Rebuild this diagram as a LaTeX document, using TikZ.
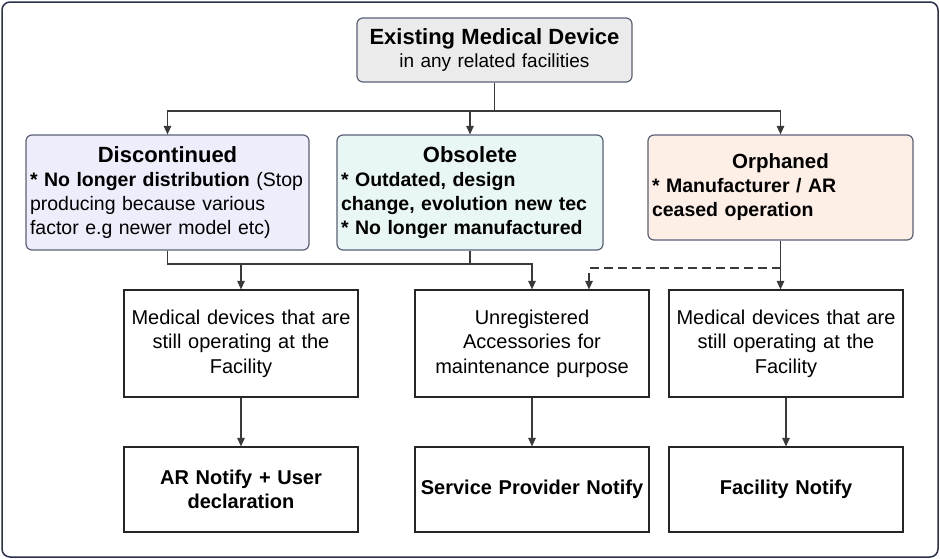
\documentclass[tikz,border=0pt]{standalone}
\usepackage{fontspec}
\setmainfont{Liberation Sans}
\usetikzlibrary{arrows.meta}

\definecolor{framecol}{HTML}{29304C}
\definecolor{edgecol}{HTML}{5A6078}
\definecolor{linecol}{HTML}{3A3A3A}
\definecolor{topfill}{HTML}{EBEBEB}
\definecolor{discfill}{HTML}{EDEDFB}
\definecolor{obsfill}{HTML}{E8F6F4}
\definecolor{orphfill}{HTML}{FDEEE6}

\newcommand{\boxtitle}{\fontsize{22}{25}\selectfont\bfseries}
\newcommand{\boxbody}{\fontsize{19.5}{24}\selectfont}
\newcommand{\cellfont}{\fontsize{20}{24.5}\selectfont}

\begin{document}
\begin{tikzpicture}[x=1pt, y=-1pt,
		catbox/.style={draw=edgecol, line width=1.2pt, rounded corners=6pt, inner xsep=4pt, inner ysep=0pt, font=\boxbody},
		stepbox/.style={draw=black!85, line width=1.2pt, text width=226pt, inner xsep=4pt, align=center, font=\cellfont},
		conn/.style={draw=linecol, line width=1.1pt},
		arr/.style={conn, -{Triangle[length=8.5pt,width=7.5pt]}}]
		\useasboundingbox (0,0) rectangle (940,558);
		\draw[framecol, line width=1.5pt, rounded corners=8pt] (2,2) rectangle (938,557);
		% top and the three kinds
		\node[catbox, fill=topfill, text width=267pt, minimum height=64pt, align=center, font=\fontsize{19}{23}\selectfont] (top) at (494.5,50) {{\boxtitle Existing Medical Device}\\in any related facilities};
		\node[catbox, fill=discfill, text width=275pt, minimum height=115pt] (disc) at (167.5,192.5) {{\centering\boxtitle Discontinued\par}\raggedright\textbf{* No longer distribution} (Stop\\producing because various\\factor e.g newer model etc)};
		\node[catbox, fill=obsfill, text width=258pt, minimum height=115pt] (obs) at (470,192.5) {{\centering\boxtitle Obsolete\par}\raggedright\bfseries * Outdated, design\\change, evolution new tec\\{}* No longer manufactured};
		\node[catbox, fill=orphfill, text width=257pt, minimum height=105pt] (orph) at (780.5,187.5) {{\centering\fontsize{20.5}{25}\selectfont\bfseries Orphaned\par}\raggedright\bfseries * Manufacturer / AR\\ceased operation};
		% what is still in use
		\node[stepbox, minimum height=107pt] (mid1) at (241,343.5) {Medical devices that are\\still operating at the\\Facility};
		\node[stepbox, minimum height=107pt] (mid2) at (532,343.5) {Unregistered\\Accessories for\\maintenance purpose};
		\node[stepbox, minimum height=107pt] (mid3) at (786,343.5) {Medical devices that are\\still operating at the\\Facility};
		% who notifies
		\node[stepbox, minimum height=85pt, font=\cellfont\bfseries] (bot1) at (241,489.5) {AR Notify + User\\declaration};
		\node[stepbox, minimum height=85pt, font=\cellfont\bfseries] (bot2) at (532,489.5) {Service Provider Notify};
		\node[stepbox, minimum height=85pt, font=\cellfont\bfseries] (bot3) at (786,489.5) {Facility Notify};
		% connectors
		\coordinate (split) at (494.5,111);
		\draw[conn] (top.south) -- (split);
		\draw[arr] (split) -| (disc.north);
		\draw[arr] (split) -| (obs.north);
		\draw[arr] (split) -| (orph.north);
		\coordinate (merge) at (470,264);
		\draw[conn] (disc.south) |- (merge) -- (obs.south);
		\draw[arr] (mid1.north |- merge) -- (mid1.north);
		\draw[arr] (merge) -| (mid2.north);
		\coordinate (dash) at (589,268);
		\draw[arr] (orph.south) -- (orph.south |- mid3.north);
		\draw[arr, dash pattern=on 9pt off 5pt] (orph.south |- dash) -- (dash) -- (dash |- mid2.north);
		\draw[arr] (mid1.south) -- (bot1.north);
		\draw[arr] (mid2.south) -- (bot2.north);
		\draw[arr] (mid3.south) -- (bot3.north);
	\end{tikzpicture}
\end{document}
